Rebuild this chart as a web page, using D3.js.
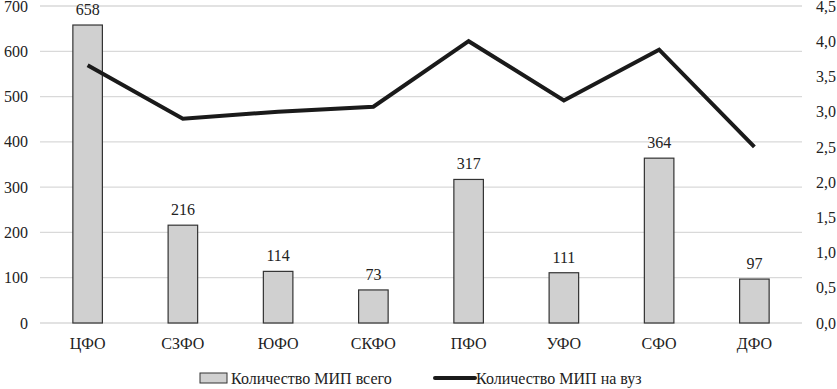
<!DOCTYPE html>
<html>
<head>
<meta charset="utf-8">
<script src="https://cdn.jsdelivr.net/npm/d3@7"></script>
<style>
  body { margin: 0; background: #fff; }
</style>
</head>
<body>
<div id="chart-area"></div>
<script>
var width = 837;
var height = 389;
var margin = {top: 6, right: 35, bottom: 66, left: 40};
var innerWidth = width - margin.left - margin.right;
var innerHeight = height - margin.top - margin.bottom;
var fontFamily = "Liberation Serif";

// data
var regions = ["ЦФО", "СЗФО", "ЮФО", "СКФО", "ПФО", "УФО", "СФО", "ДФО"];
var mipTotal = [658, 216, 114, 73, 317, 111, 364, 97];
var mipPerUni = [3.66, 2.9, 3.0, 3.07, 4.0, 3.16, 3.88, 2.5];
var leftTicks = [0, 100, 200, 300, 400, 500, 600, 700];
var rightTicks = [0, 0.5, 1, 1.5, 2, 2.5, 3, 3.5, 4, 4.5];
var legendLabels = ["Количество МИП всего", "Количество МИП на вуз"];

const svg = d3.select("#chart-area")
  .append("svg")
    .attr("width", width)
    .attr("height", height);

const g = svg.append("g")
  .attr("transform", "translate(" + margin.left + ", " + margin.top + ")");

//Scales
var x = d3.scaleBand()
  .domain(regions)
  .range([0, innerWidth])
  .paddingInner(0.69)
  .paddingOuter(0.345);

var y = d3.scaleLinear()
  .domain([0, 700])
  .range([innerHeight, 0]);

var y2 = d3.scaleLinear()
  .domain([0, 4.5])
  .range([innerHeight, 0]);

//Grid
g.append("g")
  .selectAll("line")
  .data(leftTicks)
  .enter().append("line")
    .attr("x1", 0)
    .attr("x2", innerWidth)
    .attr("y1", d => y(d))
    .attr("y2", d => y(d))
    .attr("stroke", "#d9d9d9")
    .attr("stroke-width", 1.3);

//Axes
var leftAxis = g.append("g")
  .call(d3.axisLeft(y).tickValues(leftTicks).tickSize(0).tickPadding(12).tickFormat(d3.format("d")));
var rightAxis = g.append("g")
  .attr("transform", "translate(" + innerWidth + ", 0)")
  .call(d3.axisRight(y2).tickValues(rightTicks).tickSize(0).tickPadding(14)
    .tickFormat(d => d3.format(".1f")(d).replace(".", ",")));
var bottomAxis = g.append("g")
  .attr("transform", "translate(0, " + innerHeight + ")")
  .call(d3.axisBottom(x).tickSize(0).tickPadding(15));

[leftAxis, rightAxis, bottomAxis].forEach(a => {
  a.attr("font-family", null).attr("font-size", null);
  a.select(".domain").remove();
});

//Bars
g.selectAll("rect.bar")
  .data(mipTotal)
  .enter().append("rect")
    .attr("class", "bar")
    .attr("x", (d, i) => x(regions[i]))
    .attr("y", d => y(d))
    .attr("width", x.bandwidth())
    .attr("height", d => innerHeight - y(d))
    .attr("fill", "#d0d0d0")
    .attr("stroke", "#333")
    .attr("stroke-width", 1.2);

g.selectAll("text.val")
  .data(mipTotal)
  .enter().append("text")
    .attr("class", "val")
    .attr("x", (d, i) => x(regions[i]) + x.bandwidth() / 2)
    .attr("y", d => y(d) - 10)
    .attr("text-anchor", "middle")
    .text(d => d);

//Line
var line = d3.line()
  .x((d, i) => x(regions[i]) + x.bandwidth() / 2)
  .y(d => y2(d));

g.append("path")
  .datum(mipPerUni)
  .attr("d", line)
  .attr("fill", "none")
  .attr("stroke", "#1a1a1a")
  .attr("stroke-width", 4)
  .attr("stroke-linejoin", "miter");

//Legend
const legend = svg.append("g").attr("transform", "translate(0, 378)");

legend.append("rect")
  .attr("x", 200)
  .attr("y", -5)
  .attr("width", 27)
  .attr("height", 10)
  .attr("fill", "#d0d0d0")
  .attr("stroke", "#333")
  .attr("stroke-width", 1);

legend.append("text")
  .attr("x", 231)
  .attr("y", 6)
  .text(legendLabels[0]);

legend.append("line")
  .attr("x1", 435)
  .attr("x2", 475)
  .attr("y1", 0)
  .attr("y2", 0)
  .attr("stroke", "#1a1a1a")
  .attr("stroke-width", 4)
  .attr("stroke-linecap", "round");

legend.append("text")
  .attr("x", 476)
  .attr("y", 6)
  .text(legendLabels[1]);

// common text style
svg.selectAll("text")
  .attr("font-family", fontFamily)
  .attr("font-size", 16)
  .attr("fill", "#222");
</script>
</body>
</html>
